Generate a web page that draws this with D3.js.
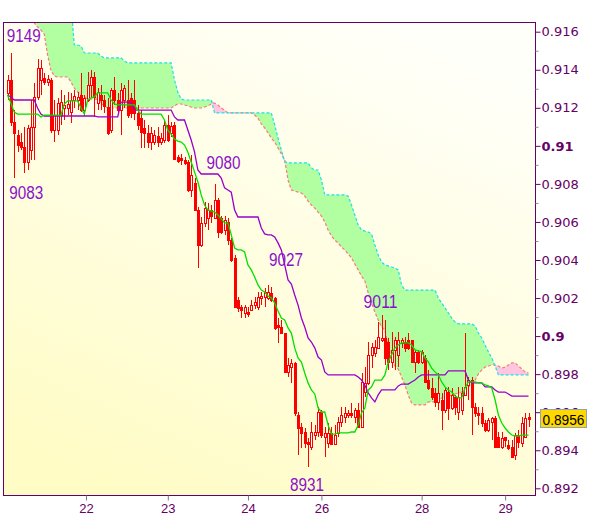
<!DOCTYPE html>
<html><head><meta charset="utf-8">
<script src="https://cdn.jsdelivr.net/npm/d3@7"></script>
<style>body{margin:0;background:#fff}svg{display:block}</style>
</head><body><svg id="chart" width="600" height="519"></svg>
<script>
// ---------- DATA (hourly candles) ----------
const openP = [
0.91278,0.91346,0.91125,0.91057,0.91020,0.90994,0.90915,0.90978,0.91099,0.91257,
0.91346,0.91357,0.91336,0.91346,0.91083,0.91083,0.91162,0.91199,0.91199,0.91178,
0.91241,0.91241,0.91267,0.91188,0.91241,0.91320,0.91362,0.91225,0.91267,0.91241,
0.91204,0.91083,0.91294,0.91241,0.91188,0.91241,0.91241,0.91252,0.91241,0.91173,
0.91146,0.91094,0.91068,0.91020,0.91020,0.91052,0.91020,0.91031,0.91110,0.91068,
0.91110,0.90941,0.90936,0.90926,0.90915,0.90768,0.90805,0.90663,0.90479,0.90595,
0.90621,0.90663,0.90621,0.90715,0.90621,0.90558,0.90600,0.90505,0.90411,0.90190,
0.90153,0.90122,0.90127,0.90137,0.90163,0.90153,0.90200,0.90206,0.90200,0.90227,
0.90200,0.90058,0.90048,0.90016,0.89811,0.89837,0.89859,0.89585,0.89522,0.89496,
0.89443,0.89417,0.89480,0.89496,0.89601,0.89470,0.89438,0.89491,0.89433,0.89491,
0.89549,0.89575,0.89585,0.89596,0.89575,0.89612,0.89522,0.89706,0.89754,0.89901,
0.89911,0.89938,0.89980,0.89990,0.89969,0.89864,0.89927,0.89901,0.89964,0.89969,
0.89980,0.89980,0.89864,0.89917,0.89864,0.89885,0.89769,0.89727,0.89701,0.89654,
0.89664,0.89612,0.89706,0.89622,0.89680,0.89601,0.89612,0.89691,0.89743,0.89769,
0.89627,0.89596,0.89596,0.89543,0.89507,0.89549,0.89570,0.89470,0.89417,0.89470,
0.89428,0.89417,0.89375,0.89480,0.89438,0.89470,0.89575];
const closeP = [
0.91346,0.91125,0.91068,0.91004,0.90994,0.90915,0.91094,0.91099,0.91257,0.91409,
0.91409,0.91336,0.91351,0.91083,0.91162,0.91225,0.91230,0.91215,0.91220,0.91241,
0.91262,0.91257,0.91188,0.91252,0.91320,0.91362,0.91257,0.91283,0.91241,0.91209,
0.91068,0.91294,0.91241,0.91188,0.91294,0.91304,0.91162,0.91173,0.91173,0.91110,
0.91073,0.91068,0.91020,0.91068,0.91057,0.91020,0.91041,0.91110,0.91031,0.91104,
0.90931,0.90920,0.90926,0.90910,0.90768,0.90847,0.90663,0.90479,0.90595,0.90673,
0.90663,0.90631,0.90715,0.90547,0.90547,0.90610,0.90505,0.90400,0.90153,0.90148,
0.90137,0.90153,0.90117,0.90163,0.90179,0.90206,0.90211,0.90232,0.90232,0.90190,
0.90043,0.90048,0.90016,0.89811,0.89848,0.89859,0.89596,0.89517,0.89491,0.89438,
0.89433,0.89496,0.89496,0.89601,0.89480,0.89491,0.89491,0.89433,0.89480,0.89549,
0.89585,0.89596,0.89596,0.89585,0.89612,0.89522,0.89759,0.89754,0.89901,0.89943,
0.89943,0.89995,0.89990,0.89885,0.89864,0.89927,0.89980,0.89980,0.89980,0.89938,
0.89938,0.89864,0.89917,0.89864,0.89917,0.89759,0.89727,0.89680,0.89654,0.89701,
0.89612,0.89717,0.89622,0.89691,0.89627,0.89680,0.89701,0.89733,0.89769,0.89627,
0.89596,0.89585,0.89543,0.89507,0.89559,0.89570,0.89417,0.89417,0.89464,0.89454,
0.89412,0.89365,0.89480,0.89443,0.89543,0.89570,0.89564];
const highP = [
0.91372,0.91490,0.91188,0.91083,0.91068,0.91099,0.91110,0.91241,0.91330,0.91456,
0.91451,0.91383,0.91372,0.91357,0.91241,0.91252,0.91294,0.91267,0.91283,0.91278,
0.91294,0.91283,0.91383,0.91267,0.91388,0.91399,0.91388,0.91304,0.91320,0.91267,
0.91252,0.91304,0.91362,0.91278,0.91330,0.91320,0.91346,0.91278,0.91346,0.91215,
0.91188,0.91136,0.91110,0.91099,0.91083,0.91099,0.91068,0.91136,0.91162,0.91125,
0.91125,0.90952,0.90957,0.90941,0.90926,0.90952,0.90831,0.90679,0.90626,0.90705,
0.90700,0.90689,0.90800,0.90726,0.90631,0.90631,0.90621,0.90516,0.90426,0.90206,
0.90163,0.90163,0.90153,0.90190,0.90206,0.90232,0.90232,0.90253,0.90270,0.90260,
0.90206,0.90095,0.90085,0.90016,0.89885,0.89880,0.89864,0.89601,0.89543,0.89517,
0.89464,0.89549,0.89533,0.89627,0.89612,0.89522,0.89543,0.89522,0.89533,0.89575,
0.89627,0.89627,0.89612,0.89648,0.89622,0.89648,0.89806,0.89837,0.89969,0.89964,
0.89980,0.90074,0.90110,0.90085,0.89990,0.90022,0.89995,0.90022,0.89990,0.89995,
0.90016,0.89980,0.89927,0.89927,0.89927,0.89901,0.89822,0.89780,0.89727,0.89806,
0.89701,0.89727,0.89733,0.89727,0.89691,0.89733,0.89733,0.90016,0.89785,0.89785,
0.89648,0.89627,0.89627,0.89559,0.89570,0.89575,0.89580,0.89496,0.89496,0.89469,
0.89454,0.89454,0.89491,0.89507,0.89575,0.89596,0.89596];
const lowP = [
0.91241,0.91104,0.90830,0.90968,0.90978,0.90857,0.90873,0.90926,0.90926,0.91241,
0.91267,0.91320,0.91315,0.91068,0.91020,0.91057,0.91110,0.91136,0.91162,0.91120,
0.91199,0.91188,0.91178,0.91156,0.91230,0.91252,0.91152,0.91188,0.91188,0.91173,
0.91057,0.91068,0.91215,0.91178,0.91057,0.91199,0.91146,0.91146,0.91136,0.91083,
0.90989,0.90989,0.90989,0.90978,0.91004,0.90994,0.91004,0.91015,0.91020,0.91046,
0.90926,0.90910,0.90899,0.90899,0.90757,0.90731,0.90663,0.90358,0.90468,0.90574,
0.90558,0.90595,0.90616,0.90516,0.90537,0.90532,0.90479,0.90390,0.90148,0.90127,
0.90095,0.90095,0.90100,0.90132,0.90143,0.90137,0.90163,0.90153,0.90190,0.90180,
0.90032,0.89964,0.90011,0.89806,0.89785,0.89754,0.89580,0.89375,0.89412,0.89412,
0.89310,0.89401,0.89454,0.89470,0.89464,0.89365,0.89412,0.89428,0.89428,0.89470,
0.89522,0.89543,0.89570,0.89570,0.89543,0.89517,0.89517,0.89680,0.89743,0.89832,
0.89890,0.89932,0.89969,0.89848,0.89822,0.89832,0.89822,0.89837,0.89938,0.89917,
0.89927,0.89859,0.89806,0.89854,0.89854,0.89754,0.89717,0.89664,0.89627,0.89612,
0.89507,0.89596,0.89559,0.89612,0.89585,0.89559,0.89585,0.89685,0.89664,0.89480,
0.89575,0.89533,0.89522,0.89496,0.89496,0.89454,0.89412,0.89412,0.89407,0.89417,
0.89401,0.89359,0.89349,0.89412,0.89417,0.89464,0.89522];

// Tenkan (green) and Kijun (purple) lines
const tenkan = [
0.91267,0.91225,0.91178,0.91167,0.91167,0.91167,0.91167,0.91167,0.91167,0.91167,
0.91152,0.91162,0.91162,0.91162,0.91162,0.91162,0.91162,0.91220,0.91236,0.91236,
0.91236,0.91236,0.91199,0.91167,0.91241,0.91252,0.91257,0.91278,0.91278,0.91278,
0.91278,0.91241,0.91220,0.91215,0.91215,0.91215,0.91215,0.91215,0.91215,0.91188,
0.91167,0.91167,0.91167,0.91167,0.91167,0.91167,0.91167,0.91136,0.91083,0.91062,
0.91036,0.91025,0.91020,0.91004,0.90968,0.90915,0.90863,0.90810,0.90742,0.90689,
0.90663,0.90658,0.90652,0.90637,0.90616,0.90595,0.90595,0.90532,0.90463,0.90453,
0.90453,0.90442,0.90374,0.90348,0.90311,0.90269,0.90242,0.90232,0.90211,0.90200,
0.90174,0.90132,0.90095,0.90085,0.90043,0.90016,0.89938,0.89885,0.89864,0.89806,
0.89754,0.89717,0.89696,0.89622,0.89601,0.89601,0.89533,0.89485,0.89485,0.89491,
0.89491,0.89491,0.89491,0.89496,0.89496,0.89533,0.89596,0.89622,0.89717,0.89733,
0.89769,0.89769,0.89769,0.89796,0.89864,0.89901,0.89938,0.89953,0.89964,0.89964,
0.89964,0.89953,0.89927,0.89922,0.89917,0.89885,0.89864,0.89832,0.89812,0.89796,
0.89759,0.89733,0.89717,0.89706,0.89685,0.89675,0.89675,0.89727,0.89759,0.89759,
0.89759,0.89754,0.89754,0.89743,0.89738,0.89727,0.89664,0.89585,0.89543,0.89517,
0.89496,0.89480,0.89475,0.89475,0.89480,0.89480,0.89480];
const kijun = [
0.91267,0.91257,0.91241,0.91241,0.91241,0.91241,0.91241,0.91241,0.91241,0.91199,
0.91167,0.91157,0.91157,0.91157,0.91157,0.91157,0.91157,0.91157,0.91157,0.91157,
0.91157,0.91157,0.91157,0.91157,0.91157,0.91157,0.91157,0.91152,0.91152,0.91152,
0.91152,0.91152,0.91152,0.91152,0.91230,0.91230,0.91230,0.91230,0.91188,0.91188,
0.91188,0.91188,0.91188,0.91188,0.91188,0.91188,0.91188,0.91188,0.91188,0.91188,
0.91152,0.91136,0.91136,0.91136,0.91083,0.91031,0.90968,0.90873,0.90852,0.90852,
0.90852,0.90852,0.90852,0.90852,0.90831,0.90779,0.90768,0.90757,0.90663,0.90626,
0.90626,0.90626,0.90626,0.90626,0.90626,0.90626,0.90568,0.90537,0.90532,0.90532,
0.90521,0.90490,0.90453,0.90374,0.90295,0.90274,0.90216,0.90163,0.90095,0.90048,
0.89990,0.89969,0.89938,0.89890,0.89874,0.89812,0.89796,0.89796,0.89796,0.89796,
0.89796,0.89796,0.89796,0.89796,0.89796,0.89785,0.89769,0.89743,0.89701,0.89675,
0.89654,0.89691,0.89717,0.89717,0.89717,0.89717,0.89717,0.89738,0.89748,0.89748,
0.89748,0.89759,0.89769,0.89785,0.89796,0.89796,0.89796,0.89796,0.89796,0.89796,
0.89796,0.89796,0.89817,0.89817,0.89817,0.89817,0.89817,0.89817,0.89769,0.89754,
0.89754,0.89754,0.89754,0.89733,0.89733,0.89733,0.89717,0.89706,0.89706,0.89706,
0.89696,0.89685,0.89685,0.89685,0.89685,0.89685,0.89685];

// Cloud spans (Senkou A = cyan edge, Senkou B = red edge); null = no cloud
const senkouA = [
null,null,null,null,null,null,null,0.9175,0.9175,0.9175,
0.9175,0.9175,0.9175,0.9175,0.9175,0.9175,0.9175,0.9175,0.9175,0.9175,
0.91530,0.91530,0.91525,0.91488,0.91488,0.91488,0.91488,0.91488,0.91472,0.91462,
0.91462,0.91462,0.91462,0.91462,0.91462,0.91446,0.91436,0.91436,0.91436,0.91436,
0.91436,0.91436,0.91436,0.91436,0.91436,0.91436,0.91436,0.91436,0.91436,0.91436,
0.91346,0.91283,0.91246,0.91241,0.91241,0.91241,0.91241,0.91241,0.91241,0.91241,
0.91241,0.91241,0.91173,0.91173,0.91173,0.91173,0.91173,0.91173,0.91173,0.91173,
0.91173,0.91173,0.91173,0.91173,0.91173,0.91173,0.91173,0.91173,0.91173,0.91173,
0.91110,0.91041,0.90978,0.90915,0.90910,0.90910,0.90910,0.90910,0.90910,0.90910,
0.90910,0.90884,0.90873,0.90873,0.90820,0.90742,0.90742,0.90742,0.90742,0.90742,
0.90742,0.90742,0.90736,0.90689,0.90637,0.90584,0.90558,0.90552,0.90547,0.90537,
0.90479,0.90426,0.90390,0.90374,0.90369,0.90363,0.90358,0.90348,0.90269,0.90242,
0.90242,0.90242,0.90242,0.90242,0.90242,0.90242,0.90242,0.90242,0.90242,0.90200,
0.90174,0.90148,0.90122,0.90095,0.90074,0.90064,0.90064,0.90064,0.90064,0.90064,
0.90053,0.90016,0.89990,0.89953,0.89917,0.89885,0.89843,0.89796,0.89796,0.89796,
0.89796,0.89796,0.89796,0.89796,0.89796,0.89796,0.89796];
const senkouB = [
null,null,null,null,null,null,null,0.91672,0.91646,0.91625,
0.91609,0.91588,0.91478,0.91399,0.91367,0.91362,0.91362,0.91362,0.91362,0.91336,
0.91304,0.91283,0.91267,0.91257,0.91246,0.91246,0.91246,0.91246,0.91225,0.91210,
0.91199,0.91199,0.91199,0.91199,0.91199,0.91199,0.91199,0.91199,0.91199,0.91199,
0.91199,0.91199,0.91199,0.91199,0.91199,0.91199,0.91199,0.91199,0.91199,0.91199,
0.91210,0.91220,0.91220,0.91215,0.91210,0.91204,0.91199,0.91199,0.91199,0.91204,
0.91210,0.91220,0.91225,0.91215,0.91199,0.91188,0.91173,0.91173,0.91173,0.91173,
0.91173,0.91173,0.91173,0.91173,0.91162,0.91146,0.91115,0.91094,0.91068,0.91041,
0.91020,0.90989,0.90957,0.90926,0.90820,0.90768,0.90763,0.90757,0.90752,0.90736,
0.90710,0.90689,0.90673,0.90652,0.90631,0.90600,0.90558,0.90526,0.90505,0.90489,
0.90468,0.90453,0.90432,0.90411,0.90379,0.90348,0.90316,0.90290,0.90227,0.90174,
0.90127,0.90085,0.90048,0.90032,0.89953,0.89874,0.89843,0.89827,0.89785,0.89743,
0.89690,0.89648,0.89638,0.89638,0.89638,0.89638,0.89654,0.89654,0.89654,0.89654,
0.89675,0.89680,0.89685,0.89690,0.89696,0.89701,0.89706,0.89717,0.89733,0.89748,
0.89769,0.89801,0.89822,0.89837,0.89843,0.89848,0.89848,0.89843,0.89832,0.89837,
0.89848,0.89859,0.89859,0.89843,0.89827,0.89811,0.89806];

// Axis ticks
const yTickValues = [0.892,0.894,0.896,0.898,0.900,0.902,0.904,0.906,0.908,0.910,0.912,0.914,0.916];
const yTickLabels = ["0.892","0.894","0.896","0.898","0.9","0.902","0.904","0.906","0.908","0.91","0.912","0.914","0.916"];
const yMinorTicks = [0.893,0.895,0.897,0.899,0.901,0.903,0.905,0.907,0.909,0.911,0.913,0.915];
const xTickIndex = [23.5,48,72,94,124,149];
const xTickLabels = ["22","23","24","26","28","29"];

// Swing annotations
const annoIndex = [1,2,62,78,112,90];
const annoValue = [0.9149,0.9083,0.9080,0.9027,0.9011,0.8931];
const annoText  = ["9149","9083","9080","9027","9011","8931"];
const lastPriceLabel = "0.8956";

// ---------- DRAWING ----------
const N = openP.length;
const plot = {left:3.5, right:535.5, top:22.5, bottom:495.5};
const svg = d3.select("#chart");
const x = d3.scaleLinear().domain([0, N-1]).range([7.5, 528.5]);
const y = d3.scaleLinear().domain([0.892, 0.916]).range([488.3, 31.7]);

const defs = svg.append("defs");
const grad = defs.append("linearGradient").attr("id","bg")
  .attr("x1","0.75").attr("y1","0").attr("x2","0.25").attr("y2","1");
grad.append("stop").attr("offset","0").attr("stop-color","#fffffa");
grad.append("stop").attr("offset","1").attr("stop-color","#fffcc6");
defs.append("clipPath").attr("id","clip").append("rect")
  .attr("x",plot.left).attr("y",plot.top)
  .attr("width",plot.right-plot.left).attr("height",plot.bottom-plot.top);

svg.append("rect").attr("x",plot.left).attr("y",plot.top)
  .attr("width",plot.right-plot.left).attr("height",plot.bottom-plot.top)
  .attr("fill","url(#bg)");

const g = svg.append("g").attr("clip-path","url(#clip)");

// Cloud
const cloud = d3.range(N).filter(i => senkouA[i] != null)
  .map(i => ({i, a: senkouA[i], b: senkouB[i]}));
g.append("path").datum(cloud).attr("fill","#b2ffa2")
  .attr("d", d3.area().x(d=>x(d.i)).y0(d=>y(d.b)).y1(d=>y(Math.max(d.a,d.b))));
g.append("path").datum(cloud).attr("fill","#ffc6e2")
  .attr("d", d3.area().x(d=>x(d.i)).y0(d=>y(d.a)).y1(d=>y(Math.max(d.a,d.b))));
g.append("path").datum(cloud).attr("fill","none").attr("stroke","#ff7878")
  .attr("stroke-width",1.2).attr("stroke-dasharray","3,2")
  .attr("d", d3.line().x(d=>x(d.i)).y(d=>y(d.b)));
g.append("path").datum(cloud).attr("fill","none").attr("stroke","#18e0f0")
  .attr("stroke-width",1.2).attr("stroke-dasharray","3,2")
  .attr("d", d3.line().x(d=>x(d.i)).y(d=>y(d.a)));

// Candles
const candles = d3.range(N).map(i => ({i, o:openP[i], c:closeP[i], h:highP[i], l:lowP[i]}));
const cg = g.append("g");
cg.selectAll("line.wick").data(candles).join("line").attr("class","wick")
  .attr("x1", d => Math.round(x(d.i)) + 0.5).attr("x2", d => Math.round(x(d.i)) + 0.5)
  .attr("y1", d => y(Math.max(d.h, d.o, d.c))).attr("y2", d => y(Math.min(d.l, d.o, d.c)))
  .attr("stroke","#ff0000").attr("stroke-width",1).attr("shape-rendering","crispEdges");
cg.selectAll("rect.body").data(candles).join("rect").attr("class","body")
  .attr("x", d => Math.round(x(d.i)) - 0.5)
  .attr("y", d => Math.round(y(Math.max(d.o,d.c))) + 0.5)
  .attr("width", 2)
  .attr("height", d => Math.max(1, Math.round(y(Math.min(d.o,d.c))) - Math.round(y(Math.max(d.o,d.c)))))
  .attr("fill", d => d.c > d.o ? "#ffffff" : "#ff0000")
  .attr("stroke","#ff0000").attr("stroke-width",1).attr("shape-rendering","crispEdges");

// Kijun & Tenkan
g.append("path").datum(d3.range(N)).attr("fill","none").attr("stroke","#9900cc").attr("stroke-width",1.3)
  .attr("d", d3.line().x(i=>x(i)).y(i=>y(kijun[i])));
g.append("path").datum(d3.range(N)).attr("fill","none").attr("stroke","#00e000").attr("stroke-width",1.3)
  .attr("d", d3.line().x(i=>x(i)).y(i=>y(tenkan[i])));

// Annotations
const annoDx = [-4,-5,-8,1,-18,-18];
const annoDy = [-10.5,21,-15,-18.5,-7,23.5];
svg.append("g").selectAll("text").data(annoText).join("text")
  .attr("x", (d,k) => x(annoIndex[k]) + annoDx[k])
  .attr("y", (d,k) => y(annoValue[k]) + annoDy[k])
  .attr("textLength", 34).attr("lengthAdjust","spacingAndGlyphs")
  .attr("font-family","Liberation Sans, Arial, sans-serif").attr("font-size",18)
  .attr("fill","#8a10cc").text(d => d);

// Border
svg.append("rect").attr("x",plot.left).attr("y",plot.top)
  .attr("width",plot.right-plot.left).attr("height",plot.bottom-plot.top)
  .attr("fill","none").attr("stroke","#660066").attr("stroke-width",1);

// Y axis (right)
const gyMinor = svg.append("g").attr("transform",`translate(${plot.right},0)`)
  .call(d3.axisRight(y).tickValues(yMinorTicks).tickSize(3).tickFormat(""));
gyMinor.select(".domain").remove();
gyMinor.selectAll("line").attr("stroke","#8c8caa");
const gy = svg.append("g").attr("transform",`translate(${plot.right},0)`)
  .call(d3.axisRight(y).tickValues(yTickValues).tickSize(5).tickPadding(1)
    .tickFormat((d,k) => yTickLabels[k]));
gy.select(".domain").remove();
gy.selectAll("line").attr("stroke","#660066");
gy.selectAll("text").attr("fill","#660066")
  .attr("font-family","DejaVu Sans, Verdana, sans-serif").attr("font-size",13)
  .attr("font-weight",(d,k) => yTickLabels[k].length < 5 ? "bold" : "normal");

// X axis (bottom)
const gx = svg.append("g").attr("transform",`translate(0,${plot.bottom})`)
  .call(d3.axisBottom(x).tickValues(xTickIndex).tickSize(5).tickPadding(3)
    .tickFormat((d,k) => xTickLabels[k]));
gx.select(".domain").remove();
gx.selectAll("line").attr("stroke","#7a7a8a");
gx.selectAll("text").attr("fill","#660066")
  .attr("font-family","Liberation Sans, Arial, sans-serif").attr("font-size",13);

// Last price tag
const lastY = y(closeP[N-1]);
svg.append("rect").attr("x",540.5).attr("y",Math.round(lastY) - 9.5).attr("width",46).attr("height",18)
  .attr("fill","#ffd800").attr("stroke","#8ea2ba").attr("stroke-width",1);
svg.append("text").attr("x",542.5).attr("y",Math.round(lastY) + 5.5)
  .attr("textLength",42).attr("lengthAdjust","spacingAndGlyphs")
  .attr("font-family","Liberation Sans, Arial, sans-serif").attr("font-size",15)
  .attr("fill","#000").text(lastPriceLabel);
</script>
</body></html>
